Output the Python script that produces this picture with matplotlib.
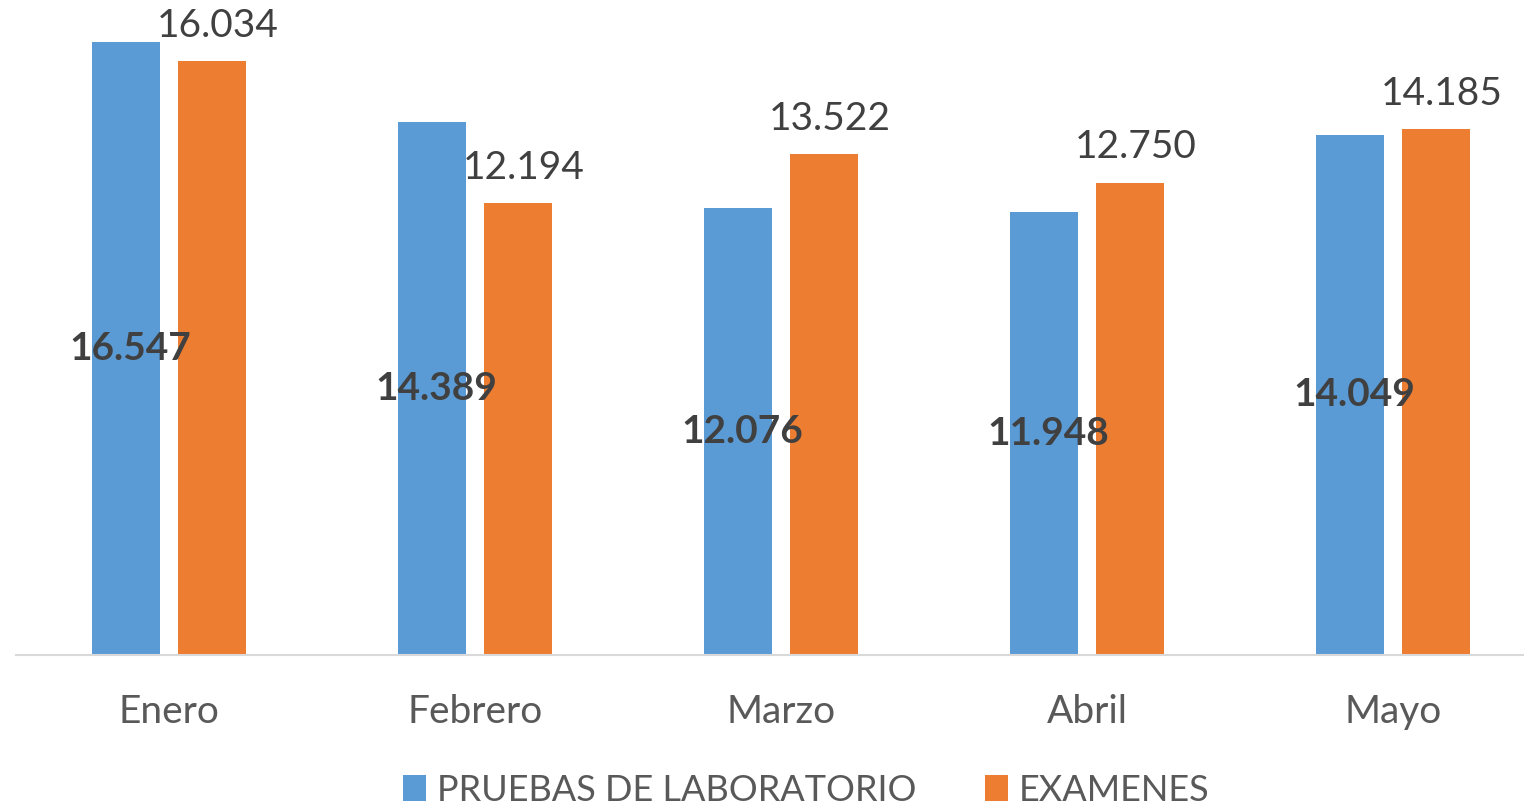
import matplotlib.pyplot as plt
import numpy as np

plt.rcParams['font.family'] = ['Lato', 'DejaVu Sans']

# Data
meses = ["Enero", "Febrero", "Marzo", "Abril", "Mayo"]
pruebas = [16547, 14389, 12076, 11948, 14049]
examenes = [16034, 12194, 13522, 12750, 14185]

def fmt(v):
    return f"{v:,}".replace(",", ".")

fig = plt.figure(figsize=(15.24, 8.07), dpi=100)
ax = fig.add_axes([16 / 1524, 152 / 807, 1530 / 1524, 655 / 807])

x = np.arange(len(meses))
w = 0.222
off = 0.142
b1 = ax.bar(x - off, pruebas, w, color="#5B9BD5", label="PRUEBAS DE LABORATORIO")
b2 = ax.bar(x + off, examenes, w, color="#ED7D31", label="EXAMENES")

# Labels
for xi, v in zip(x, pruebas):
    ax.text(xi - off + 0.015, v / 2, fmt(v), ha="center", va="center",
            fontsize=28, fontweight="bold", color="#404040")
for xi, v in zip(x, examenes):
    ax.text(xi + off + 0.016, v + 950, fmt(v), ha="center", va="center",
            fontsize=28, color="#404040")

ax.set_xlim(-0.5, 4.5)
ax.set_ylim(0, 17680)
ax.set_xticks(x)
ax.set_xticklabels(meses, fontsize=28, color="#595959")
ax.tick_params(axis="x", length=0, pad=28)
ax.set_yticks([])
for s in ["top", "right", "left"]:
    ax.spines[s].set_visible(False)
ax.spines["bottom"].set_color("#D9D9D9")
ax.spines["bottom"].set_linewidth(1.5)

fig.legend(handles=[b1, b2], loc="center", bbox_to_anchor=(0.529, 0.021),
           ncol=2, frameon=False, fontsize=26, labelcolor="#595959",
           handlelength=0.65, handleheight=0.75, handletextpad=0.3, columnspacing=1.9)

plt.savefig("out.png")
